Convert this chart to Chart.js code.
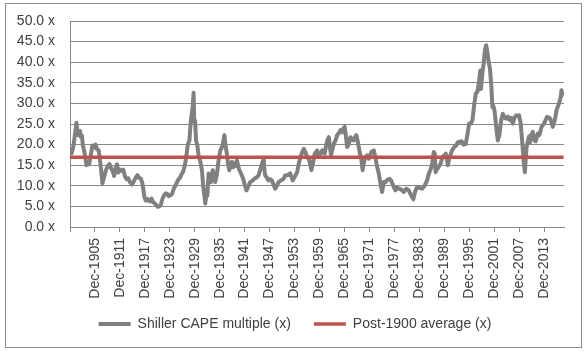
<!DOCTYPE html>
<html>
<head>
<meta charset="utf-8">
<script src="https://cdn.jsdelivr.net/npm/chart.js@4.4.1/dist/chart.umd.min.js"></script>
<style>
html, body { margin: 0; padding: 0; background: #fff; }
#frame { position: absolute; left: 5px; top: 3px; width: 575px; height: 343px; border: 1px solid #8c8c8c; }
canvas { display: block; }
</style>
</head>
<body>
<div id="frame"><canvas id="cape" width="575" height="343"></canvas></div>
<script>
// series names (legend)
var seriesNames = ['Shiller CAPE multiple (x)', 'Post-1900 average (x)'];

// dates of the readings, as decimal years
var capeYears = [
  1900.0, 1900.4, 1900.8, 1901.2, 1901.55, 1901.85, 1902.1, 1902.4, 1902.6, 1902.85,
  1903.1, 1903.5, 1903.95, 1904.25, 1904.6, 1905.0, 1905.4, 1905.8, 1906.15, 1906.5,
  1906.9, 1907.3, 1907.8, 1908.3, 1908.7, 1909.1, 1909.5, 1909.9, 1910.3, 1910.6,
  1911.0, 1911.3, 1911.6, 1911.9, 1912.4, 1912.8, 1913.2, 1913.6, 1914.0, 1914.4,
  1914.9, 1915.3, 1915.8, 1916.2, 1916.6, 1917.0, 1917.4, 1917.9, 1918.2, 1918.6,
  1919.0, 1919.3, 1919.6, 1920.0, 1920.5, 1920.8, 1921.1, 1921.5, 1921.8, 1922.2,
  1922.6, 1923.0, 1923.4, 1923.7, 1924.1, 1924.5, 1924.9, 1925.2, 1925.6, 1926.0,
  1926.4, 1926.8, 1927.2, 1927.6, 1928.0, 1928.3, 1928.7, 1929.0, 1929.3, 1929.5,
  1929.7, 1929.85, 1930.05, 1930.3, 1930.6, 1930.9, 1931.3, 1931.7, 1932.0, 1932.5,
  1932.8, 1933.0, 1933.3, 1933.6, 1933.9, 1934.3, 1934.6, 1934.9, 1935.3, 1935.7,
  1936.1, 1936.5, 1936.8, 1937.1, 1937.4, 1937.7, 1938.0, 1938.3, 1938.6, 1938.9,
  1939.2, 1939.5, 1939.8, 1940.1, 1940.4, 1940.7, 1941.1, 1941.6, 1942.0, 1942.4,
  1942.8, 1943.3, 1943.8, 1944.3, 1944.8, 1945.3, 1945.6, 1945.9, 1946.4, 1946.6,
  1946.9, 1947.3, 1947.7, 1948.1, 1948.5, 1948.9, 1949.3, 1949.7, 1950.1, 1950.7,
  1951.3, 1951.7, 1952.3, 1952.9, 1953.5, 1953.9, 1954.6, 1955.0, 1955.4, 1955.8,
  1956.2, 1956.6, 1957.0, 1957.5, 1958.0, 1958.4, 1958.8, 1959.4, 1959.8, 1960.2,
  1960.6, 1961.2, 1961.5, 1961.8, 1962.2, 1962.7, 1963.0, 1963.4, 1963.8, 1964.2,
  1964.6, 1965.0, 1965.4, 1965.7, 1966.0, 1966.3, 1966.6, 1966.9, 1967.4, 1967.8,
  1968.2, 1968.5, 1968.8, 1969.2, 1969.6, 1970.0, 1970.3, 1970.6, 1971.0, 1971.4,
  1971.8, 1972.4, 1973.0, 1973.4, 1973.8, 1974.2, 1974.6, 1975.0, 1975.4, 1975.8,
  1976.3, 1976.8, 1977.2, 1977.8, 1978.2, 1978.6, 1979.0, 1979.6, 1980.2, 1980.8,
  1981.4, 1981.9, 1982.5, 1982.9, 1983.4, 1983.9, 1984.6, 1985.2, 1985.8, 1986.3,
  1986.6, 1987.0, 1987.4, 1987.65, 1987.85, 1988.3, 1988.6, 1989.1, 1989.5, 1989.9,
  1990.3, 1990.8, 1991.1, 1991.5, 1991.9, 1992.3, 1992.8, 1993.2, 1993.7, 1994.1,
  1994.6, 1995.1, 1995.5, 1995.9, 1996.3, 1996.7, 1997.1, 1997.5, 1997.9, 1998.3,
  1998.6, 1998.75, 1999.1, 1999.4, 1999.7, 2000.0, 2000.3, 2000.6, 2000.9, 2001.25,
  2001.5, 2001.7, 2002.0, 2002.5, 2002.8, 2003.2, 2003.6, 2004.0, 2004.4, 2004.8,
  2005.2, 2005.6, 2006.0, 2006.4, 2006.8, 2007.2, 2007.6, 2007.9, 2008.3, 2008.7,
  2009.0, 2009.3, 2009.7, 2010.3, 2010.5, 2010.9, 2011.2, 2011.6, 2011.9, 2012.4,
  2012.8, 2013.3, 2013.9, 2014.6, 2015.2, 2015.5, 2016.0, 2016.5, 2016.9, 2017.5,
  2017.9, 2018.1, 2018.3, 2018.6
];

// CAPE multiple at those dates
var capeValues = [
  19.2, 17.9, 19.5, 22.5, 25.3, 22.3, 22.8, 23.3, 21.8, 22.2,
  19.8, 18.0, 15.0, 15.8, 15.2, 17.5, 19.8, 19.3, 20.0, 18.8,
  18.6, 15.5, 10.6, 12.5, 14.0, 14.8, 15.3, 14.2, 13.5, 12.4,
  14.5, 15.2, 13.2, 14.0, 13.6, 13.9, 12.3, 11.6, 11.8, 10.9,
  10.3, 11.0, 12.0, 12.6, 11.9, 11.8, 10.6, 7.2, 6.4, 6.8,
  6.3, 6.2, 6.9, 6.0, 5.6, 5.2, 4.9, 5.0, 5.3, 6.8,
  7.7, 8.2, 8.0, 7.5, 7.7, 8.0, 9.2, 9.8, 10.6, 11.5,
  11.9, 12.8, 13.5, 15.0, 17.5, 20.0, 21.0, 25.5, 27.8, 29.5,
  32.6, 25.5, 25.8, 21.0, 19.8, 17.4, 16.0, 13.8, 10.0, 5.7,
  8.0, 7.6, 13.0, 12.0, 10.9, 13.8, 12.5, 10.9, 12.8, 16.2,
  18.5, 19.4, 20.5, 22.3, 19.5, 17.8, 15.0, 13.8, 15.2, 15.8,
  14.5, 15.4, 14.8, 16.2, 14.8, 13.8, 13.0, 11.7, 10.2, 8.9,
  9.8, 10.9, 11.2, 11.7, 12.0, 12.5, 13.5, 14.6, 16.2, 15.0,
  12.5, 12.0, 11.3, 11.6, 11.3, 10.3, 9.3, 10.0, 10.9, 11.3,
  11.7, 12.5, 12.6, 13.0, 11.3, 12.0, 13.4, 15.5, 17.0, 18.2,
  19.0, 18.0, 17.0, 16.2, 13.8, 15.5, 17.8, 18.6, 17.0, 17.8,
  18.6, 17.8, 19.5, 21.0, 21.8, 17.4, 18.6, 20.2, 21.0, 22.3,
  22.8, 23.5, 23.0, 24.0, 24.3, 22.0, 19.4, 20.0, 21.8, 21.2,
  21.0, 21.8, 22.3, 20.5, 18.2, 16.5, 13.8, 15.5, 17.0, 17.4,
  16.6, 18.2, 18.6, 16.8, 14.6, 13.0, 10.5, 8.5, 10.9, 10.9,
  11.5, 11.7, 11.2, 9.7, 8.9, 9.6, 9.3, 9.1, 8.5, 9.3,
  8.9, 7.8, 6.7, 8.5, 9.7, 9.5, 9.3, 10.0, 11.3, 13.2,
  13.8, 15.2, 18.2, 17.8, 13.3, 14.2, 14.6, 15.5, 17.0, 17.3,
  17.8, 15.0, 16.5, 17.8, 18.8, 19.4, 19.8, 20.6, 20.7, 20.8,
  20.0, 20.2, 22.5, 25.1, 25.1, 25.9, 29.5, 32.4, 32.8, 35.5,
  38.0, 33.5, 37.5, 39.7, 42.9, 44.1, 42.5, 40.0, 38.5, 34.0,
  29.1, 29.5, 28.3, 23.5, 21.0, 22.5, 25.9, 27.5, 26.5, 26.3,
  26.8, 26.0, 26.5, 25.1, 26.5, 27.1, 27.0, 27.1, 25.1, 20.2,
  16.0, 13.3, 19.4, 22.0, 20.5, 22.5, 23.1, 21.0, 20.8, 22.7,
  22.3, 24.3, 25.1, 26.7, 26.5, 26.0, 24.3, 26.0, 28.3, 30.0,
  31.5, 33.2, 32.0, 31.8
];

var averageValue = 16.9;

// x axis labels
var tickLabels = ['Dec-1905', 'Dec-1911', 'Dec-1917', 'Dec-1923', 'Dec-1929', 'Dec-1935',
  'Dec-1941', 'Dec-1947', 'Dec-1953', 'Dec-1959', 'Dec-1965', 'Dec-1971', 'Dec-1977',
  'Dec-1983', 'Dec-1989', 'Dec-1995', 'Dec-2001', 'Dec-2007', 'Dec-2013'];

var yTicks = [0, 5, 10, 15, 20, 25, 30, 35, 40, 45, 50];

var xMin = 1900.0, xMax = 2018.7;
var gridColor = '#888888';
var textColor = '#404040';
var fontFam = "'Liberation Sans', Arial, sans-serif";

Chart.defaults.font.family = fontFam;
Chart.defaults.font.size = 14;
Chart.defaults.color = textColor;

// tick positions: start of axis, then every december label
var tickPos = [xMin].concat(tickLabels.map(function (l) {
  return parseInt(l.split('-')[1], 10) + 0.96;
}));

var capePoints = capeYears.map(function (yr, i) {
  return { x: yr, y: capeValues[i] };
});
var avgPoints = [
  { x: capeYears[0], y: averageValue },
  { x: capeYears[capeYears.length - 1], y: averageValue }
];

// move the legend a little (excel puts it a bit right and higher)
var legendNudge = {
  id: 'legendNudge',
  afterLayout: function (c) {
    var lg = c.legend;
    if (!lg) return;
    lg.left += 10; lg.right += 10;
    lg.top -= 5; lg.bottom -= 5;
  }
};

var ctx = document.getElementById('cape');
var chart = new Chart(ctx, {
  type: 'line',
  data: {
    datasets: [{
      label: seriesNames[0],
      data: capePoints,
      borderColor: '#808080',
      backgroundColor: '#808080',
      borderWidth: 4,
      borderJoinStyle: 'round',
      pointRadius: 0,
      pointStyle: 'line',
      tension: 0,
      order: 2
    }, {
      label: seriesNames[1],
      data: avgPoints,
      borderColor: '#C0504D',
      backgroundColor: '#C0504D',
      borderWidth: 3.5,
      pointRadius: 0,
      pointStyle: 'line',
      tension: 0,
      order: 1
    }]
  },
  plugins: [legendNudge],
  options: {
    responsive: false,
    animation: false,
    events: [],
    layout: { padding: { left: 0, right: 17, top: 17, bottom: 1 } },
    plugins: {
      tooltip: { enabled: false },
      legend: {
        position: 'bottom',
        labels: {
          usePointStyle: true,
          pointStyle: 'line',
          pointStyleWidth: 32,
          padding: 23,
          color: textColor,
          font: { size: 14, family: fontFam },
          sort: function (a, b) { return a.datasetIndex - b.datasetIndex; }
        }
      }
    },
    scales: {
      x: {
        type: 'linear',
        min: xMin,
        max: xMax,
        afterBuildTicks: function (scale) {
          scale.ticks = tickPos.map(function (v) { return { value: v }; });
        },
        afterFit: function (scale) { scale.height = 72; },
        ticks: {
          autoSkip: false,
          minRotation: 90,
          maxRotation: 90,
          padding: 6,
          color: textColor,
          callback: function (value, index) {
            return index === 0 ? '' : tickLabels[index - 1];
          }
        },
        grid: { drawOnChartArea: false, drawTicks: true, tickLength: 5, color: gridColor },
        border: { display: true, color: gridColor, width: 1 }
      },
      y: {
        min: 0,
        max: 50,
        afterBuildTicks: function (scale) {
          scale.ticks = yTicks.map(function (v) { return { value: v }; });
        },
        afterFit: function (scale) { scale.width = 64; },
        ticks: {
          padding: 0,
          color: textColor,
          callback: function (value) { return value.toFixed(1) + ' x'; }
        },
        grid: { color: gridColor, drawTicks: true, tickLength: 15, tickColor: 'rgba(0,0,0,0)' },
        border: { display: true, color: gridColor, width: 1 }
      }
    }
  }
});
</script>
</body>
</html>
